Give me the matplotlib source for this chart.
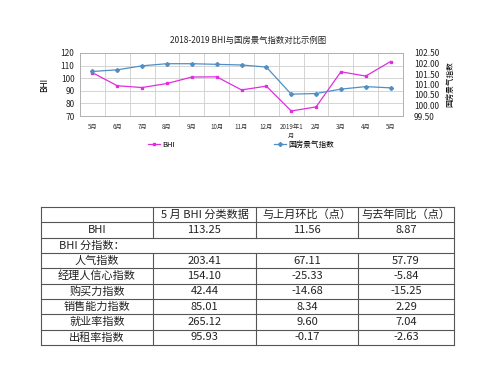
import matplotlib

matplotlib.use("Agg")
import matplotlib.pyplot as plt

plt.rcParams["font.family"] = ["Noto Sans CJK SC", "DejaVu Sans"]

# ---- data -------------------------------------------------------------------
months = ["5月", "6月", "7月", "8月", "9月", "10月", "11月", "12月",
          "2019年1\n月", "2月", "3月", "4月", "5月"]
bhi = [104.38, 94.0, 92.6, 95.8, 100.9, 101.1, 90.7, 93.7,
       74.0, 77.2, 105.1, 101.69, 113.25]
gf_index = [101.62, 101.70, 101.89, 101.99, 101.99, 101.96, 101.93, 101.83,
            100.54, 100.57, 100.78, 100.90, 100.84]

table_header = ["", "5 月 BHI 分类数据", "与上月环比（点）", "与去年同比（点）"]
table_bhi = ["BHI", "113.25", "11.56", "8.87"]
sub_title = "BHI 分指数："
sub_names = ["人气指数", "经理人信心指数", "购买力指数", "销售能力指数", "就业率指数", "出租率指数"]
sub_value = ["203.41", "154.10", "42.44", "85.01", "265.12", "95.93"]
sub_mom = ["67.11", "-25.33", "-14.68", "8.34", "9.60", "-0.17"]
sub_yoy = ["57.79", "-5.84", "-15.25", "2.29", "7.04", "-2.63"]

W, H = 500, 368
fig = plt.figure(figsize=(W / 100, H / 100), dpi=100)

# ---- line chart -------------------------------------------------------------
ax = fig.add_axes([80 / W, 1 - 116 / H, 323 / W, 63 / H])
x = list(range(len(months)))
l1, = ax.plot(x, bhi, color="#e02ee0", lw=0.9, marker="s", ms=2, label="BHI")
ax.set_xlim(-0.5, len(months) - 0.5)
ax.set_ylim(70, 120)
ax.set_yticks(range(70, 121, 10))
ax.set_xticks(x)
ax.set_xticklabels(months, fontsize=4.5, color="#333333")
ax.set_xticks([i - 0.5 for i in range(len(months) + 1)], minor=True)
ax.tick_params(axis="both", which="both", length=0)
ax.tick_params(axis="y", labelsize=6, colors="#222222", pad=4)
ax.tick_params(axis="x", pad=5)
ax.grid(True, which="minor", axis="x", color="#d4d4d4", lw=0.7)
ax.grid(True, which="major", axis="y", color="#d4d4d4", lw=0.7)
ax.set_axisbelow(True)
for s in ax.spines.values():
    s.set_color("#b0b0b0")
    s.set_linewidth(0.7)
ax.set_ylabel("BHI", fontsize=6, labelpad=8)

ax2 = ax.twinx()
l2, = ax2.plot(x, gf_index, color="#4f8fc4", lw=0.9, marker="D", ms=2, label="国房景气指数")
ax2.set_ylim(99.5, 102.5)
ax2.set_yticks([99.5, 100.0, 100.5, 101.0, 101.5, 102.0, 102.5])
ax2.set_yticklabels([f"{v:.2f}" for v in ax2.get_yticks()])
ax2.tick_params(axis="y", length=0, labelsize=6, colors="#222222", pad=8)
for s in ax2.spines.values():
    s.set_visible(False)
ax2.set_ylabel("国房景气指数", fontsize=5.5, rotation=90, labelpad=5)

fig.text(248 / W, 1 - 40 / H, "2018-2019 BHI与国房景气指数对比示例图",
         ha="center", va="center", fontsize=6, color="#222222")
fig.legend(handles=[l1, l2], loc="center", bbox_to_anchor=(241 / W, 1 - 145 / H),
           ncol=2, frameon=False, fontsize=5.5, handlelength=1.6,
           columnspacing=13, handletextpad=0.3)

# ---- table ------------------------------------------------------------------
tx = fig.add_axes([0, 0, 1, 1])
tx.set_xlim(0, W)
tx.set_ylim(H, 0)
tx.axis("off")

cols = [41, 153, 256, 358, 454]
top, bottom = 207, 345
nrows = 9
rh = (bottom - top) / nrows
rows_y = [top + i * rh for i in range(nrows + 1)]
line_kw = dict(color="#555555", lw=0.8)

for y in rows_y:
    tx.plot([cols[0], cols[-1]], [y, y], **line_kw)
for i, cx in enumerate(cols):
    if i in (0, len(cols) - 1):
        tx.plot([cx, cx], [top, bottom], **line_kw)
    else:
        tx.plot([cx, cx], [rows_y[0], rows_y[2]], **line_kw)
        tx.plot([cx, cx], [rows_y[3], rows_y[-1]], **line_kw)

centers = [(cols[i] + cols[i + 1]) / 2 for i in range(4)]
txt_kw = dict(ha="center", va="center", fontsize=8, color="#222222")


def put_row(r, cells):
    yc = (rows_y[r] + rows_y[r + 1]) / 2
    for c, s in enumerate(cells):
        if s:
            tx.text(centers[c], yc, s, **txt_kw)


put_row(0, table_header)
put_row(1, table_bhi)
tx.text(centers[0] - 5, (rows_y[2] + rows_y[3]) / 2, sub_title, **txt_kw)
for k in range(len(sub_names)):
    put_row(3 + k, [sub_names[k], sub_value[k], sub_mom[k], sub_yoy[k]])

fig.savefig("out.png", dpi=100)
